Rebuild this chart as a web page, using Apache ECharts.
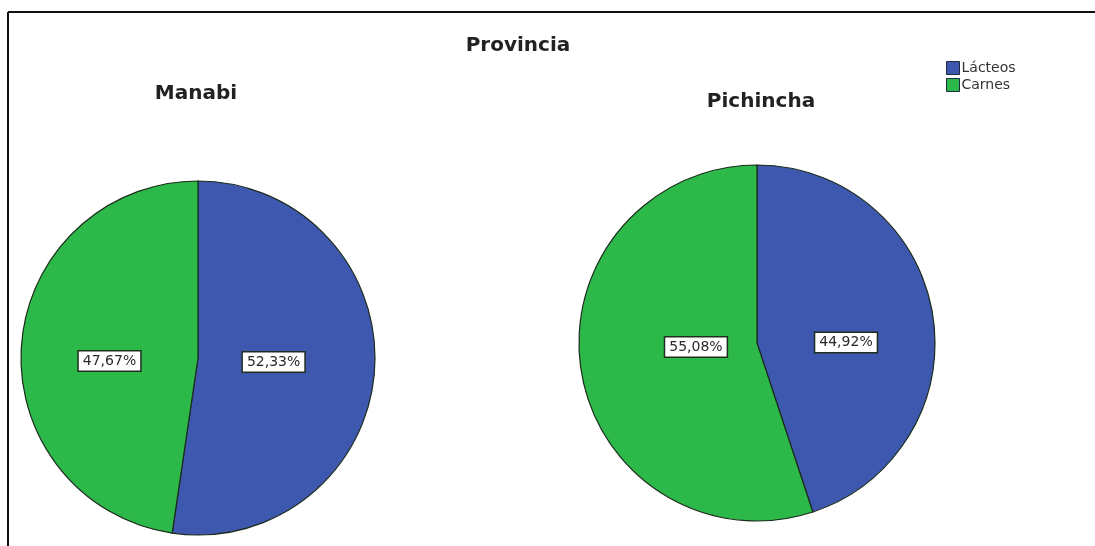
<!DOCTYPE html>
<html>
<head>
<meta charset="utf-8">
<script src="https://cdn.jsdelivr.net/npm/echarts@6/dist/echarts.min.js"></script>
<style>
html,body{margin:0;padding:0;background:#fff;}
#c{width:1095px;height:546px;}
</style>
</head>
<body>
<div id="c"></div>
<script>
const categories = ['Lácteos', 'Carnes'];
const provinces = ['Manabi', 'Pichincha'];
const manabiValues = [52.33, 47.67];
const pichinchaValues = [44.92, 55.08];
const colors = ['#3E58B0', '#2DB84A'];

const FONT = 'DejaVu Sans, Verdana, sans-serif';
const chart = echarts.init(document.getElementById('c'));
function mk(vals) { return categories.map((n, i) => ({ name: n, value: vals[i] })); }
const labelCfg = {
  show: true,
  position: 'inside',
  formatter: p => p.value.toFixed(2).replace('.', ',') + '%',
  color: '#2a2a2a',
  fontFamily: FONT,
  fontSize: 14,
  backgroundColor: '#fff',
  borderColor: '#1e2e1e',
  borderWidth: 1.5,
  padding: [3, 4, 2, 4]
};
// place each label near the centre of its slice's bounding box
const labelLayout = p => ({
  x: p.rect.x + p.rect.width / 2,
  y: p.rect.y + p.rect.height / 2 + 4,
  align: 'center',
  verticalAlign: 'middle'
});
const titleStyle = { fontSize: 20, fontWeight: 'bold', color: '#222', fontFamily: FONT };
chart.setOption({
  animation: false,
  color: colors,
  title: [
    { text: 'Provincia', left: 513, top: 31, textAlign: 'center', textStyle: titleStyle },
    { text: provinces[0], left: 191, top: 79, textAlign: 'center', textStyle: titleStyle },
    { text: provinces[1], left: 756, top: 87, textAlign: 'center', textStyle: titleStyle }
  ],
  legend: {
    orient: 'vertical', left: 941, top: 56,
    itemWidth: 13, itemHeight: 13, itemGap: 3,
    icon: 'rect',
    textStyle: { fontSize: 14, color: '#333', padding: [0, 0, 0, -3], fontFamily: FONT },
    data: categories,
    itemStyle: { borderColor: '#1e2a3e', borderWidth: 1 }
  },
  graphic: [
    { type: 'line', shape: { x1: 8, y1: 12, x2: 1095, y2: 12 }, style: { stroke: '#111', lineWidth: 2 } },
    { type: 'line', shape: { x1: 8, y1: 12, x2: 8, y2: 546 }, style: { stroke: '#111', lineWidth: 2 } }
  ],
  series: [
    { type: 'pie', name: provinces[0], center: [198, 358], radius: 177, startAngle: 90, clockwise: true,
      data: mk(manabiValues), label: labelCfg, labelLine: { show: false }, labelLayout: labelLayout,
      itemStyle: { borderColor: '#1b2b1b', borderWidth: 1.2 }, emphasis: { disabled: true } },
    { type: 'pie', name: provinces[1], center: [757, 343], radius: 178, startAngle: 90, clockwise: true,
      data: mk(pichinchaValues), label: labelCfg, labelLine: { show: false }, labelLayout: labelLayout,
      itemStyle: { borderColor: '#1b2b1b', borderWidth: 1.2 }, emphasis: { disabled: true } }
  ]
});
</script>
</body>
</html>
